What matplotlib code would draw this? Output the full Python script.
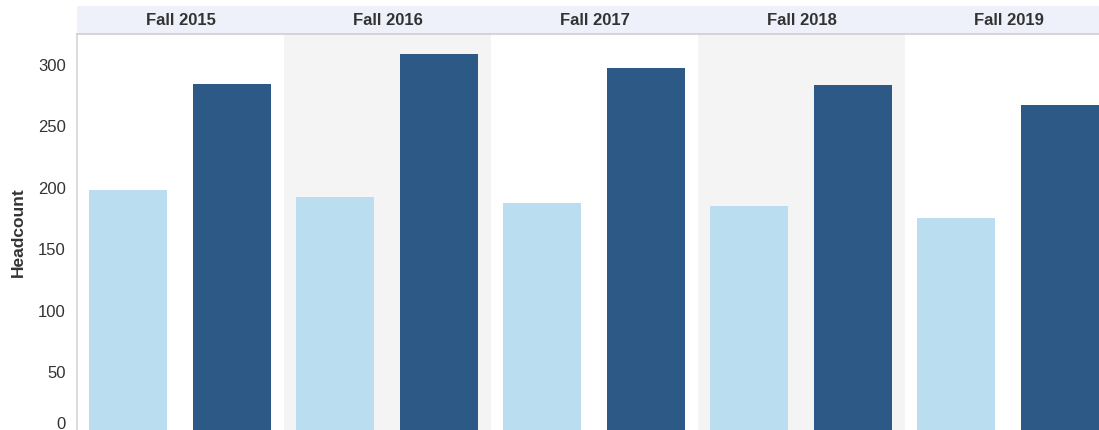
import matplotlib
matplotlib.use("Agg")
import matplotlib.pyplot as plt
from matplotlib.transforms import ScaledTranslation

# Data
terms = ["Fall 2015", "Fall 2016", "Fall 2017", "Fall 2018", "Fall 2019"]
series_light = [197, 192, 187, 184, 175]
series_dark = [284, 308, 297, 283, 267]
yticks = [0, 50, 100, 150, 200, 250, 300]

W, H = 1099, 431
fig = plt.figure(figsize=(W / 100, H / 100), dpi=100)
plt.rcParams['font.family'] = ['Liberation Sans', 'DejaVu Sans']

light_c = "#BADEF0"
dark_c = "#2C5985"
grey_bg = "#F4F4F4"
text_c = "#333333"

left_px, right_px = 77, 1099
top_px = 35
zero_px = 433.4
px_per_unit = 1.228
panel_px = 207.0

ax = fig.add_axes([left_px / W, (H - zero_px) / H, (right_px - left_px) / W, (zero_px - top_px) / H])
xmax = (right_px - left_px) / panel_px
ax.set_xlim(0, xmax)
ax.set_ylim(0, (zero_px - top_px) / px_per_unit)

for i in range(len(terms)):
    if i % 2 == 1:
        ax.axvspan(i, i + 1, color=grey_bg, lw=0, zorder=0)

off_light = 51 / panel_px
off_dark = 155 / panel_px
bw = 78 / panel_px
xs = list(range(len(terms)))
ax.bar([x + off_light for x in xs], series_light, width=bw, color=light_c, zorder=2)
ax.bar([x + off_dark for x in xs], series_dark, width=bw, color=dark_c, zorder=2)

for s in ["top", "right", "bottom"]:
    ax.spines[s].set_visible(False)
ax.spines["left"].set_color("#D4D4D4")
ax.spines["left"].set_linewidth(1.2)
ax.set_xticks([])
ax.set_yticks(yticks)
ax.set_yticklabels([str(v) for v in yticks])
ax.tick_params(axis="y", length=0, pad=8, labelsize=12, labelcolor=text_c)
lbls = ax.get_yticklabels()
lbls[0].set_transform(lbls[0].get_transform() + ScaledTranslation(0, 10 / 100, fig.dpi_scale_trans))
ax.set_ylabel("Headcount", fontsize=12.5, fontweight="bold", color=text_c)
ax.yaxis.set_label_coords(-51 / (right_px - left_px), (zero_px - 232) / (zero_px - top_px))

# Header strip
hdr_top = 7
hax = fig.add_axes([left_px / W, (H - top_px) / H, (right_px - left_px) / W, (top_px - hdr_top) / H])
hax.set_xlim(0, xmax)
hax.set_ylim(0, 1)
hax.set_facecolor("#EEF1F9")
for s in ["top", "right", "left"]:
    hax.spines[s].set_visible(False)
hax.spines["bottom"].set_color("#CFCFCF")
hax.spines["bottom"].set_linewidth(1.2)
hax.set_xticks([])
hax.set_yticks([])
for i, t in enumerate(terms):
    hax.text(i + 0.5, 0.5, t, ha="center", va="center", fontsize=12, fontweight="bold", color=text_c)

fig.savefig("out.png", dpi=100, facecolor="white")
